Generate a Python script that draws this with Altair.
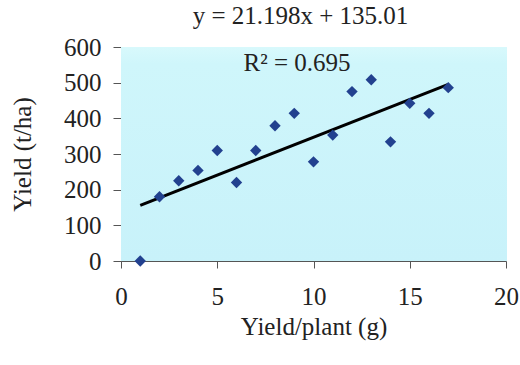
import altair as alt
import pandas as pd

# Data
plant_yield = [1, 2, 3, 4, 5, 6, 7, 8, 9, 10, 11, 12, 13, 14, 15, 16, 17]
area_yield = [0, 180, 225, 254, 310, 220, 310, 379, 414, 278, 353, 475, 508, 334, 442, 414, 486]
slope = 21.198
intercept = 135.01
fit_x = [1, 17]
x_ticks = [0, 5, 10, 15, 20]
y_ticks = [0, 100, 200, 300, 400, 500, 600]
equation = "y = 21.198x + 135.01"
r2_label = "R² = 0.695"

FONT = "Liberation Serif"
FS = 25
W, H = 385, 214

pts = pd.DataFrame({"x": plant_yield, "y": area_yield})
fit = pd.DataFrame({"x": fit_x, "y": [slope * v + intercept for v in fit_x]})

xscale = alt.Scale(domain=[0, 20], nice=False, zero=False)
yscale = alt.Scale(domain=[0, 600], nice=False)

xaxis = alt.Axis(values=x_ticks, title="Yield/plant (g)", grid=False,
                 labelFont=FONT, labelFontSize=FS, labelColor="#222", labelOverlap=False,
                 titleFont=FONT, titleFontSize=FS, titleFontWeight="normal", titleColor="#222",
                 labelPadding=16, titlePadding=5, tickSize=7, tickColor="#555",
                 domainColor="#555", labelFlush=False)
yaxis = alt.Axis(values=y_ticks, title="Yield (t/ha)", grid=False,
                 labelFont=FONT, labelFontSize=FS, labelColor="#222", labelOverlap=False,
                 labelBound=False,
                 titleFont=FONT, titleFontSize=FS, titleFontWeight="normal", titleColor="#222",
                 labelPadding=12, titlePadding=28, tickSize=8, tickColor="#555",
                 domainColor="#555", labelFlush=False)

bg = alt.Chart(pd.DataFrame({"a": [0]})).mark_rect(
    color=alt.LinearGradient(
        gradient="linear", x1=0, x2=0, y1=0, y2=1,
        stops=[alt.GradientStop(color="#d8f9fc", offset=0),
               alt.GradientStop(color="#cff6fb", offset=0.08),
               alt.GradientStop(color="#c8f2fa", offset=1)]
    )
).encode(x=alt.value(0), x2=alt.value(W + 1), y=alt.value(0), y2=alt.value(H))

line = alt.Chart(fit).mark_line(color="#000000", strokeWidth=3).encode(
    x=alt.X("x:Q", scale=xscale, axis=xaxis), y=alt.Y("y:Q", scale=yscale, axis=yaxis))

points = alt.Chart(pts).mark_point(
    shape="diamond", filled=True, color="#22418f", opacity=1, size=130
).encode(x=alt.X("x:Q", scale=xscale, axis=xaxis), y=alt.Y("y:Q", scale=yscale, axis=yaxis))

r2 = alt.Chart(pd.DataFrame({"t": [r2_label]})).mark_text(
    font=FONT, fontSize=FS, color="#222", align="center", baseline="middle"
).encode(text="t:N", x=alt.value(176), y=alt.value(16))

chart = alt.layer(bg, line, points, r2).properties(
    width=W, height=H,
    title=alt.TitleParams(equation, font=FONT, fontSize=FS, fontWeight="normal",
                          color="#222", anchor="middle", offset=6, dx=-13),
    autosize=alt.AutoSizeParams(type="none"),
    padding={"left": 121, "top": 47, "right": 14, "bottom": 104},
).configure_view(stroke=None).configure(background="white")

chart.save("out.html", embed_options={"renderer": "svg", "actions": False})
